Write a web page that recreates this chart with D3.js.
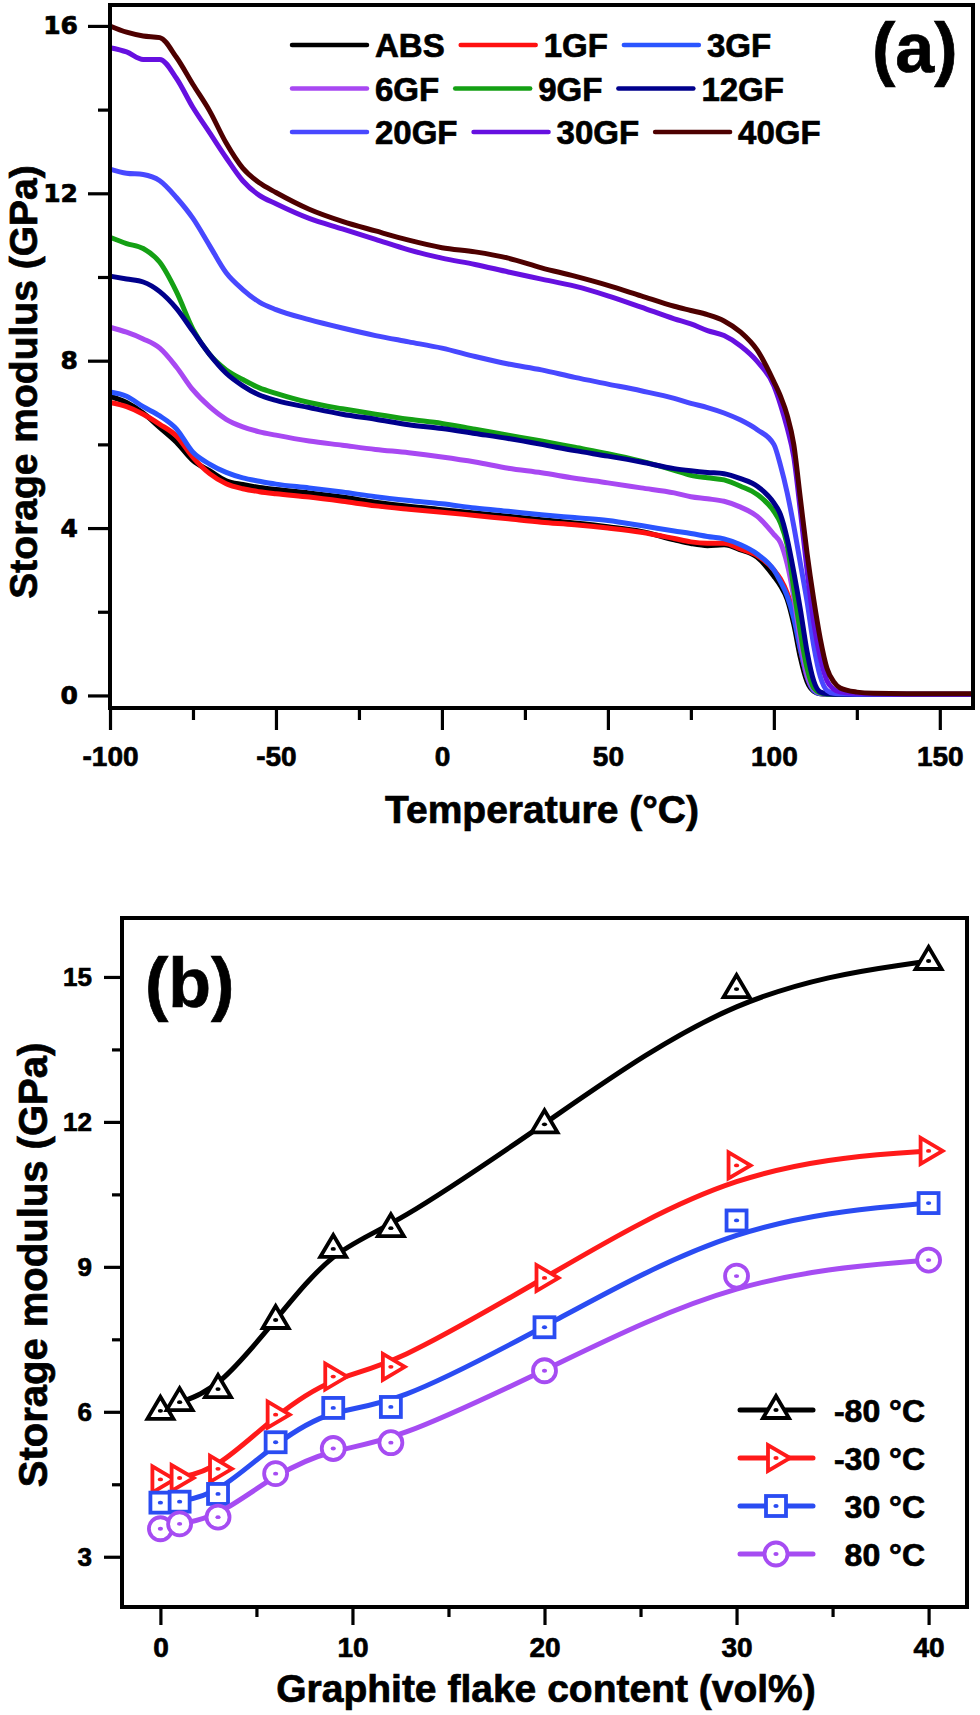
<!DOCTYPE html>
<html>
<head>
<meta charset="utf-8">
<script src="https://cdn.jsdelivr.net/npm/d3@7"></script>
<style>
  body { margin: 0; background: #fff; }
  svg text { font-family: "Liberation Sans", Arial, sans-serif; font-weight: bold; fill: #000; stroke: #000; stroke-width: 0.7px; }
</style>
</head>
<body>
<svg id="svg" width="980" height="1715"></svg>
<script>
// ---- panel (a): storage modulus vs temperature ----
const tempC = [-100, -95, -90, -85, -80, -75, -70, -65, -60, -55, -50,
  -40, -30, -20, -10, 0, 10, 20, 30, 40, 50, 60, 70,
  75, 80, 85, 90, 95, 100,
  102, 104, 106, 108, 110, 112, 114, 116, 118, 120,
  125, 130, 140, 150, 160]

const absMod = [7.15, 7.0, 6.75, 6.4, 6.05, 5.61, 5.37, 5.13, 5.04, 4.97, 4.92,
  4.84, 4.74, 4.62, 4.52, 4.44, 4.36, 4.28, 4.2, 4.12, 4.03, 3.92, 3.72,
  3.63, 3.58, 3.6, 3.48, 3.3, 2.85,
  2.62, 2.3, 1.7, 0.9, 0.33, 0.1, 0.04, 0.03, 0.03, 0.03,
  0.02, 0.02, 0.02, 0.02, 0.02]
const gf1Mod = [7.0, 6.9, 6.72, 6.48, 6.2, 5.69, 5.3, 5.06, 4.94, 4.87, 4.82,
  4.74, 4.64, 4.53, 4.45, 4.38, 4.3, 4.22, 4.14, 4.08, 4.0, 3.9, 3.75,
  3.67, 3.64, 3.64, 3.5, 3.34, 3.0,
  2.78, 2.45, 1.95, 1.1, 0.45, 0.13, 0.05, 0.03, 0.03, 0.03,
  0.02, 0.02, 0.02, 0.02, 0.02]
const gf3Mod = [7.25, 7.15, 6.9, 6.68, 6.37, 5.81, 5.53, 5.33, 5.2, 5.12, 5.05,
  4.96, 4.86, 4.75, 4.66, 4.58, 4.48, 4.4, 4.32, 4.25, 4.18, 4.06, 3.93,
  3.87, 3.8, 3.74, 3.6, 3.38, 3.0,
  2.72, 2.38, 1.85, 1.1, 0.45, 0.12, 0.04, 0.03, 0.03, 0.03,
  0.02, 0.02, 0.02, 0.02, 0.02]
const gf6Mod = [8.8, 8.68, 8.52, 8.3, 7.85, 7.3, 6.9, 6.6, 6.42, 6.3, 6.22,
  6.08, 5.98, 5.88, 5.8, 5.7, 5.58, 5.43, 5.32, 5.19, 5.08, 4.96, 4.84,
  4.75, 4.7, 4.64, 4.5, 4.28, 3.85,
  3.65, 3.15, 2.35, 1.3, 0.5, 0.15, 0.05, 0.03, 0.03, 0.03,
  0.02, 0.02, 0.02, 0.02, 0.02]
const gf9Mod = [10.95, 10.8, 10.68, 10.35, 9.65, 8.75, 8.15, 7.78, 7.55, 7.35, 7.22,
  7.0, 6.85, 6.72, 6.6, 6.5, 6.36, 6.22, 6.08, 5.93, 5.78, 5.6, 5.38,
  5.26, 5.2, 5.15, 5.0, 4.8, 4.4,
  4.12, 3.6, 2.55, 1.5, 0.65, 0.18, 0.06, 0.03, 0.03, 0.03,
  0.02, 0.02, 0.02, 0.02, 0.02]
const gf12Mod = [10.02, 9.95, 9.88, 9.65, 9.25, 8.7, 8.15, 7.7, 7.4, 7.18, 7.05,
  6.88, 6.72, 6.6, 6.47, 6.38, 6.26, 6.14, 6.0, 5.85, 5.72, 5.58, 5.42,
  5.37, 5.33, 5.3, 5.18, 5.0, 4.6,
  4.32, 3.75, 2.95, 2.05, 1.05, 0.35, 0.08, 0.04, 0.03, 0.03,
  0.02, 0.02, 0.02, 0.02, 0.02]
const gf20Mod = [12.58, 12.48, 12.45, 12.3, 11.9, 11.4, 10.75, 10.1, 9.7, 9.4, 9.22,
  8.98, 8.78, 8.6, 8.45, 8.3, 8.1, 7.92, 7.78, 7.6, 7.44, 7.28, 7.1,
  6.98, 6.88, 6.75, 6.58, 6.35, 6.0,
  5.5, 4.85, 4.05, 3.15, 2.25, 1.2, 0.45, 0.12, 0.05, 0.04,
  0.03, 0.03, 0.03, 0.03, 0.03]
const gf30Mod = [15.48, 15.38, 15.2, 15.2, 14.75, 14.05, 13.45, 12.85, 12.3, 11.95, 11.75,
  11.4, 11.15, 10.9, 10.65, 10.45, 10.3, 10.12, 9.95, 9.78, 9.55, 9.28, 9.0,
  8.88, 8.72, 8.6, 8.35, 7.98, 7.4,
  6.95, 6.4, 5.7, 4.4, 3.0, 1.75, 0.9, 0.35, 0.15, 0.08,
  0.05, 0.04, 0.03, 0.03, 0.03]
const gf40Mod = [16.0, 15.85, 15.76, 15.72, 15.25, 14.6, 13.97, 13.2, 12.6, 12.25, 12.02,
  11.62, 11.33, 11.1, 10.88, 10.7, 10.6, 10.45, 10.22, 10.02, 9.8, 9.55, 9.3,
  9.2, 9.1, 8.95, 8.68, 8.25, 7.5,
  7.15, 6.7, 6.0, 4.7, 3.4, 2.3, 1.35, 0.65, 0.33, 0.18,
  0.08, 0.05, 0.04, 0.04, 0.04]

const sampleNames = ['ABS', '1GF', '3GF', '6GF', '9GF', '12GF', '20GF', '30GF', '40GF']
const sampleMods = [absMod, gf1Mod, gf3Mod, gf6Mod, gf9Mod, gf12Mod, gf20Mod, gf30Mod, gf40Mod]
const sampleColors = ['#000000', '#ff1010', '#2a55ff', '#a848f2', '#14a014', '#00008c', '#4848ff', '#6610e0', '#4e0000']

const tempTicks = [-100, -50, 0, 50, 100, 150]
const tempMinor = [-75, -25, 25, 75, 125]
const modTicksA = [0, 4, 8, 12, 16]
const modMinorA = [2, 6, 10, 14]

// ---- panel (b): storage modulus vs graphite flake content ----
const flakeVol = [0, 1, 3, 6, 9, 12, 20, 30, 40]
const modAtM80 = [6.02, 6.2, 6.47, 7.9, 9.37, 9.8, 11.95, 14.75, 15.33]
const modAtM30 = [4.6, 4.63, 4.82, 5.94, 6.73, 6.93, 8.77, 11.1, 11.4]
const modAt30 = [4.12, 4.14, 4.3, 5.37, 6.08, 6.1, 7.75, 9.96, 10.32]
const modAt80 = [3.58, 3.68, 3.82, 4.72, 5.24, 5.36, 6.85, 8.81, 9.14]

const tempLabels = ['-80 °C', '-30 °C', '30 °C', '80 °C']
const tempMods = [modAtM80, modAtM30, modAt30, modAt80]
const tempColors = ['#000000', '#ff1a1a', '#2a4cf2', '#a64cf2']
const tempMarkers = ['triUp', 'triRight', 'square', 'circle']

const volTicks = [0, 10, 20, 30, 40]
const volMinor = [5, 15, 25, 35]
const modTicksB = [3, 6, 9, 12, 15]
const modMinorB = [4.5, 7.5, 10.5, 13.5]

const svg = d3.select('#svg')

// plain hyphen for negatives, like the original figure
const plainFmt = d => String(d)

const arialB = '"Liberation Sans", Arial, sans-serif'
const wideB = '"DejaVu Sans", sans-serif'

// draws major + minor ticks, frame drawn separately
function drawAxes(x, y, o) {
  const xMaj = d3.axisBottom(x).tickValues(o.xTicks).tickSize(o.major).tickPadding(o.xPad).tickSizeOuter(0).tickFormat(plainFmt)
  const xMin = d3.axisBottom(x).tickValues(o.xMinor).tickSize(o.minor).tickFormat('').tickSizeOuter(0)
  const yMaj = d3.axisLeft(y).tickValues(o.yTicks).tickSize(o.major).tickPadding(o.yPad).tickSizeOuter(0).tickFormat(plainFmt)
  const yMin = d3.axisLeft(y).tickValues(o.yMinor).tickSize(o.minor).tickFormat('').tickSizeOuter(0)

  const bottom = y.range()[0], left = x.range()[0]
  ;[xMaj, xMin].forEach(ax => {
    const g = svg.append('g').attr('transform', `translate(0, ${bottom})`).call(ax)
    g.select('.domain').remove()
    g.selectAll('line').attr('stroke', '#000').attr('stroke-width', 3.2)
    g.selectAll('text')
      .style('font-family', o.xFamily)
      .style('font-size', o.xFont + 'px')
  })
  ;[yMaj, yMin].forEach(ax => {
    const g = svg.append('g').attr('transform', `translate(${left}, 0)`).call(ax)
    g.select('.domain').remove()
    g.selectAll('line').attr('stroke', '#000').attr('stroke-width', 3.2)
    g.selectAll('text')
      .style('font-family', o.yFamily)
      .style('font-size', o.yFont + 'px')
  })

  // frame
  svg.append('rect')
    .attr('x', x.range()[0]).attr('y', y.range()[1])
    .attr('width', x.range()[1] - x.range()[0])
    .attr('height', y.range()[0] - y.range()[1])
    .attr('fill', 'none').attr('stroke', '#000').attr('stroke-width', 4)
}

// ===== panel (a) =====
const xA = d3.scaleLinear().domain([-100, 160]).range([110, 973])
const yA = d3.scaleLinear().domain([-0.3, 16.5]).range([708, 5])

const lineA = d3.line()
  .x(d => xA(d[0]))
  .y(d => yA(d[1]))
  .curve(d3.curveMonotoneX)

sampleMods.forEach((vals, i) => {
  svg.append('path')
    .datum(tempC.map((t, k) => [t, vals[k]]))
    .attr('d', lineA)
    .attr('fill', 'none')
    .attr('stroke', sampleColors[i])
    .attr('stroke-width', 5)
    .attr('stroke-linejoin', 'round')
})

drawAxes(xA, yA, {
  xTicks: tempTicks, xMinor: tempMinor, yTicks: modTicksA, yMinor: modMinorA,
  major: 22, minor: 12, xPad: 16, yPad: 10,
  xFont: 28, yFont: 25, xFamily: arialB, yFamily: wideB
})

// legend (a): three rows, entries laid out one after another
const legRowsA = [[0, 1, 2], [3, 4, 5], [6, 7, 8]]
legRowsA.forEach((row, r) => {
  const ly = 45 + r * 43.5
  let lx = 292
  row.forEach(i => {
    svg.append('line')
      .attr('x1', lx).attr('x2', lx + 75).attr('y1', ly).attr('y2', ly)
      .attr('stroke', sampleColors[i]).attr('stroke-width', 4.5).attr('stroke-linecap', 'round')
    const t = svg.append('text')
      .attr('x', lx + 83).attr('y', ly + 12)
      .style('font-size', '33px')
      .text(sampleNames[i])
    lx += 83 + t.node().getComputedTextLength() + 16
  })
})

svg.append('text').attr('x', 872).attr('y', 72).style('font-size', '70px').text('(a)')

svg.append('text')
  .attr('x', 542).attr('y', 823)
  .attr('text-anchor', 'middle')
  .style('font-size', '39px')
  .text('Temperature (°C)')

svg.append('text')
  .attr('transform', 'translate(37, 382) rotate(-90)')
  .attr('text-anchor', 'middle')
  .style('font-size', '39px')
  .text('Storage modulus (GPa)')

// ===== panel (b) =====
const xB = d3.scaleLinear().domain([-2, 42]).range([122, 967])
const yB = d3.scaleLinear().domain([1.96, 16.22]).range([1607, 918])

const lineB = d3.line()
  .x(d => xB(d[0]))
  .y(d => yB(d[1]))
  .curve(d3.curveBasis)

function marker(g, kind, color) {
  if (kind === 'triUp') {
    g.append('path').attr('d', 'M0,-14L13,8L-13,8Z')
  } else if (kind === 'triRight') {
    g.append('path').attr('d', 'M14,0L-8,-13L-8,13Z')
  } else if (kind === 'square') {
    g.append('rect').attr('x', -10).attr('y', -10).attr('width', 20).attr('height', 20)
  } else {
    g.append('circle').attr('r', 11.5)
  }
  g.selectAll('path, rect, circle')
    .attr('fill', '#fff').attr('stroke', color).attr('stroke-width', 3.8).attr('stroke-linejoin', 'miter')
  g.append('ellipse').attr('rx', 2.6).attr('ry', 1.9).attr('fill', color)
}

tempMods.forEach((vals, i) => {
  const pts = flakeVol.map((v, k) => [v, vals[k]])
  svg.append('path')
    .datum(pts)
    .attr('d', lineB)
    .attr('fill', 'none')
    .attr('stroke', tempColors[i])
    .attr('stroke-width', 5)
  pts.forEach(p => {
    const g = svg.append('g').attr('transform', `translate(${xB(p[0])}, ${yB(p[1])})`)
    marker(g, tempMarkers[i], tempColors[i])
  })
})

drawAxes(xB, yB, {
  xTicks: volTicks, xMinor: volMinor, yTicks: modTicksB, yMinor: modMinorB,
  major: 18, minor: 10, xPad: 12, yPad: 12,
  xFont: 28, yFont: 26, xFamily: arialB, yFamily: arialB
})

// legend (b)
tempLabels.forEach((lab, i) => {
  const ly = 1410 + i * 48
  svg.append('line')
    .attr('x1', 740).attr('x2', 813).attr('y1', ly).attr('y2', ly)
    .attr('stroke', tempColors[i]).attr('stroke-width', 5).attr('stroke-linecap', 'round')
  const g = svg.append('g').attr('transform', `translate(776, ${ly})`)
  marker(g, tempMarkers[i], tempColors[i])
  svg.append('text')
    .attr('x', 925).attr('y', ly + 11.5)
    .attr('text-anchor', 'end')
    .style('font-size', '32px')
    .text(lab)
})

svg.append('text').attr('x', 145).attr('y', 1007).style('font-size', '70px').text('(b)')

svg.append('text')
  .attr('x', 546).attr('y', 1702)
  .attr('text-anchor', 'middle')
  .style('font-size', '39px')
  .text('Graphite flake content (vol%)')

svg.append('text')
  .attr('transform', 'translate(47, 1265) rotate(-90)')
  .attr('text-anchor', 'middle')
  .style('font-size', '40px')
  .text('Storage modulus (GPa)')
</script>
</body>
</html>
